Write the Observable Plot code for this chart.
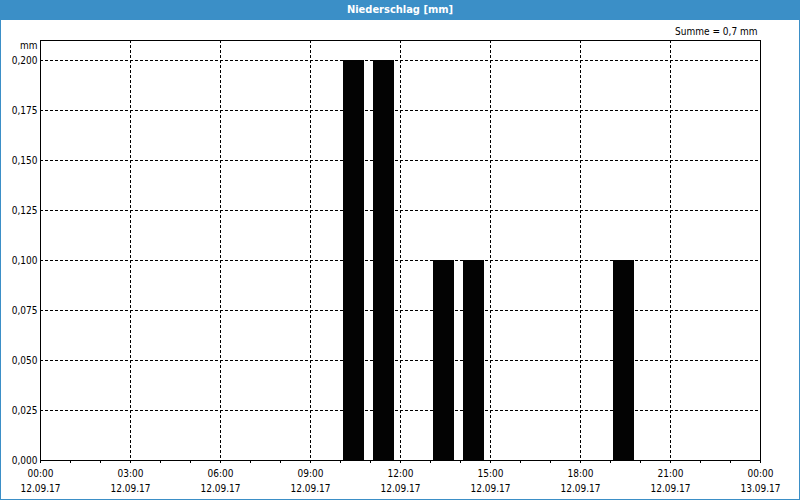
<!DOCTYPE html>
<html>
<head>
<meta charset="utf-8">
<script src="https://cdn.jsdelivr.net/npm/d3@7"></script>
<script src="https://cdn.jsdelivr.net/npm/@observablehq/plot@0.6"></script>
<style>
  html, body { margin: 0; padding: 0; background: #fff; }
  #wrap { width: 800px; height: 500px; box-sizing: border-box; border: 1px solid #3b8fc7; border-top: none; position: relative; overflow: hidden;
    font-family: Tahoma, "DejaVu Sans Condensed", "DejaVu Sans", sans-serif; }
  #title { position: absolute; left: -1px; top: 0; width: 800px; height: 20px; background: #3b8fc7; color: #fff; font-weight: bold;
    font-size: 11px; line-height: 20px; text-align: center; }
  #chart { position: absolute; left: 0; top: 21px; }
</style>
</head>
<body>
<div id="wrap">
  <div id="title">Niederschlag [mm]</div>
  <div id="chart"></div>
</div>
<script>
// Hourly precipitation, 12.09.17 (hour start, mm)
const hourStarts = ["2017-09-12T10:00", "2017-09-12T11:00", "2017-09-12T13:00", "2017-09-12T14:00", "2017-09-12T19:00"];
const values = [0.2, 0.2, 0.1, 0.1, 0.1];
const yTicks = [0, 0.025, 0.05, 0.075, 0.1, 0.125, 0.15, 0.175, 0.2];
const xStart = "2017-09-12T00:00";
const xEnd = "2017-09-13T00:00";

const parse = s => new Date(s + ":00Z");
const data = hourStarts.map((t, i) => ({x1: parse(t), x2: new Date(+parse(t) + 3600e3), v: values[i]}));
const sum = d3.sum(values);
const de = (n, d) => n.toFixed(d).replace(".", ",");
const fmtTime = d3.utcFormat("%H:%M");
const fmtDate = d3.utcFormat("%d.%m.%y");
const domain = [parse(xStart), parse(xEnd)];
const majorTicks = d3.utcHour.every(3).range(domain[0], new Date(+domain[1] + 1));
const minorTicks = d3.utcHour.every(1).range(domain[0], new Date(+domain[1] + 1));
const innerMajor = majorTicks.slice(1, -1);

const chart = Plot.plot({
  width: 798,
  height: 478,
  marginLeft: 39,
  marginRight: 39,
  marginTop: 19,
  marginBottom: 39,
  style: {fontFamily: 'Tahoma, "DejaVu Sans Condensed", "DejaVu Sans", sans-serif', fontSize: "10px", color: "#000", background: "#fff"},
  x: {type: "utc", domain},
  y: {domain: [0, 0.21]},
  marks: [
    Plot.gridY(yTicks.slice(1), {stroke: "#000", strokeOpacity: 1, strokeDasharray: "3,2"}),
    Plot.gridX(innerMajor, {stroke: "#000", strokeOpacity: 1, strokeDasharray: "3,2"}),
    Plot.rectY(data, {x1: "x1", x2: "x2", y: "v", fill: "#030303", insetLeft: 3, insetRight: 6}),
    Plot.frame({stroke: "#000", strokeWidth: 1}),
    Plot.axisY(yTicks, {tickSize: 0, tickPadding: 3, tickFormat: d => de(d, 3), label: null, fill: "#000"}),
    Plot.axisX(minorTicks, {tickSize: 3, text: null, label: null}),
    Plot.axisX(majorTicks, {tickSize: 0, tickPadding: 6, lineHeight: 1.5, tickFormat: d => fmtTime(d) + "\n" + fmtDate(d), label: null}),
    Plot.text(["mm"], {frameAnchor: "top-left", dx: -3, dy: 1, textAnchor: "end", fill: "#000"}),
    Plot.text([`Summe = ${de(sum, 1)} mm`], {frameAnchor: "top-right", dx: -3, dy: -13, textAnchor: "end", fill: "#000"})
  ]
});
document.getElementById("chart").appendChild(chart);
</script>
</body>
</html>
